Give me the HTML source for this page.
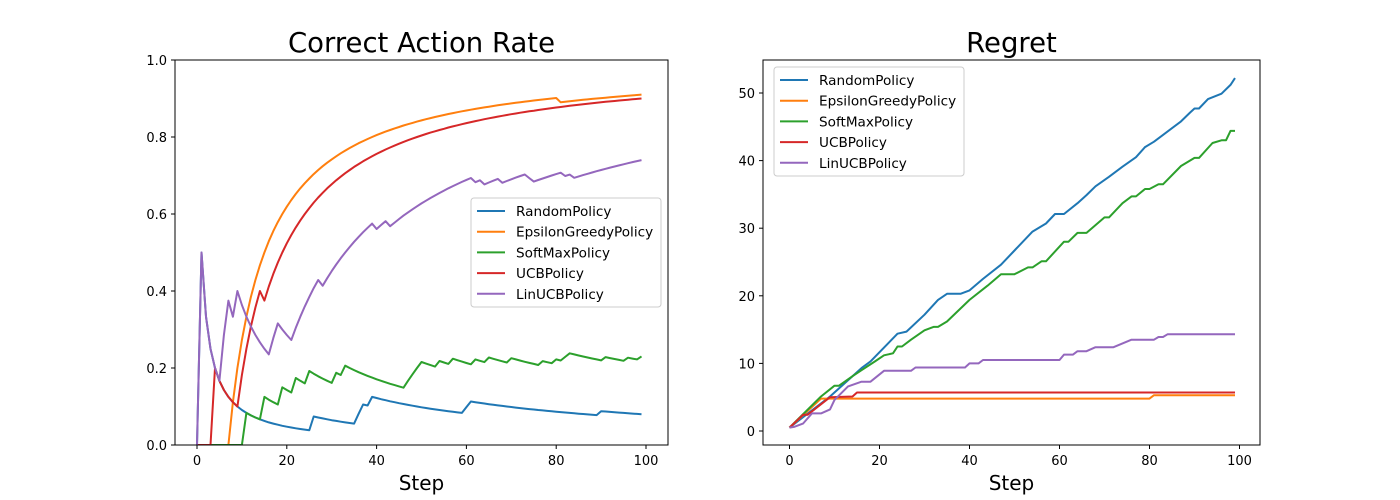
<!DOCTYPE html>
<html><head><meta charset="utf-8"><style>
body{margin:0;background:#fff}
svg{display:block;font-family:"DejaVu Sans","Liberation Sans",sans-serif}
</style></head><body>
<svg id="chart" width="1400" height="500" viewBox="0 0 1400 500"></svg>
<script>
const steps = Array.from({length:100},(_,i)=>i);
const seriesNames = ["RandomPolicy","EpsilonGreedyPolicy","SoftMaxPolicy","UCBPolicy","LinUCBPolicy"];
const seriesColors = ["#1f77b4","#ff7f0e","#2ca02c","#d62728","#9467bd"];
// cumulative correct-action counts per step (rate = count/(step+1))
const randomCorrect = [0,1,1,1,1,1,1,1,1,1, 1,1,1,1,1,1,1,1,1,1, 1,1,1,1,1,1,2,2,2,2, 2,2,2,2,2,2,3,4,4,5, 5,5,5,5,5,5,5,5,5,5, 5,5,5,5,5,5,5,5,5,5, 6,7,7,7,7,7,7,7,7,7, 7,7,7,7,7,7,7,7,7,7, 7,7,7,7,7,7,7,7,7,7, 8,8,8,8,8,8,8,8,8,8];
const epsilonCorrect = [0,0,0,0,0,0,0,0,1,2, 3,4,5,6,7,8,9,10,11,12, 13,14,15,16,17,18,19,20,21,22, 23,24,25,26,27,28,29,30,31,32, 33,34,35,36,37,38,39,40,41,42, 43,44,45,46,47,48,49,50,51,52, 53,54,55,56,57,58,59,60,61,62, 63,64,65,66,67,68,69,70,71,72, 73,73,74,75,76,77,78,79,80,81, 82,83,84,85,86,87,88,89,90,91];
const softmaxCorrect = [0,0,0,0,0,0,0,0,0,0, 0,1,1,1,1,2,2,2,2,3, 3,3,4,4,4,5,5,5,5,5, 5,6,6,7,7,7,7,7,7,7, 7,7,7,7,7,7,7,8,9,10, 11,11,11,11,12,12,12,13,13,13, 13,13,14,14,14,15,15,15,15,15, 16,16,16,16,16,16,16,17,17,17, 18,18,19,20,20,20,20,20,20,20, 20,21,21,21,21,21,22,22,22,23];
const ucbCorrect = [0,0,0,0,1,1,1,1,1,1, 2,3,4,5,6,6,7,8,9,10, 11,12,13,14,15,16,17,18,19,20, 21,22,23,24,25,26,27,28,29,30, 31,32,33,34,35,36,37,38,39,40, 41,42,43,44,45,46,47,48,49,50, 51,52,53,54,55,56,57,58,59,60, 61,62,63,64,65,66,67,68,69,70, 71,72,73,74,75,76,77,78,79,80, 81,82,83,84,85,86,87,88,89,90];
const linucbCorrect = [0,1,1,1,1,1,2,3,3,4, 4,4,4,4,4,4,4,5,6,6, 6,6,7,8,9,10,11,12,12,13, 14,15,16,17,18,19,20,21,22,23, 23,24,25,25,26,27,28,29,30,31, 32,33,34,35,36,37,38,39,40,41, 42,43,43,44,44,45,46,47,47,48, 49,50,51,52,52,52,53,54,55,56, 57,58,58,59,59,60,61,62,63,64, 65,66,67,68,69,70,71,72,73,74];
// regret keypoints
const randomRegretSteps = [0,9,16,18,24,26,30,33,35,38,40,43,47,50,54,57,59,61,64,66,68,71,74,77,79,81,83,87,89,90,91,93,96,98,99];
const randomRegret = [0.5,5.1,9.3,10.3,14.4,14.7,17.2,19.4,20.3,20.3,20.8,22.5,24.6,26.7,29.5,30.7,32.1,32.1,33.7,34.9,36.2,37.6,39.1,40.5,42.0,42.8,43.8,45.8,47.1,47.7,47.7,49.1,49.9,51.2,52.2];
const epsilonRegretSteps = [0,7,80,81,99];
const epsilonRegret = [0.5,4.8,4.8,5.3,5.3];
const softmaxRegretSteps = [0,7,10,11,14,16,19,21,23,24,25,27,30,32,33,35,40,44,47,50,53,54,56,57,61,62,64,66,70,71,74,76,77,79,80,82,83,87,90,91,94,96,97,98,99];
const softmaxRegret = [0.5,5.1,6.7,6.7,8.1,9.0,10.3,11.2,11.5,12.5,12.5,13.5,14.9,15.4,15.4,16.2,19.4,21.5,23.2,23.2,24.2,24.2,25.1,25.1,28.0,28.0,29.3,29.3,31.6,31.6,33.7,34.7,34.7,35.8,35.8,36.5,36.5,39.2,40.4,40.4,42.6,43.0,43.0,44.4,44.4];
const ucbRegretSteps = [0,3,4,9,14,15,99];
const ucbRegret = [0.5,2.4,2.4,5.0,5.1,5.7,5.7];
const linucbRegretSteps = [0,1,3,5,7,9,10,13,16,18,21,27,28,39,40,42,43,60,61,63,64,66,68,72,76,81,82,83,84,99];
const linucbRegret = [0.5,0.6,1.1,2.6,2.6,3.2,4.6,6.6,7.3,7.3,8.9,8.9,9.4,9.4,10.0,10.0,10.5,10.5,11.3,11.3,11.8,11.8,12.4,12.4,13.5,13.5,13.9,13.9,14.3,14.3];
const xTicks = [0,20,40,60,80,100];
const leftYTicks = [0,0.2,0.4,0.6,0.8,1.0];
const leftYLabels = ["0.0","0.2","0.4","0.6","0.8","1.0"];
const rightYTicks = [0,10,20,30,40,50];

const NS="http://www.w3.org/2000/svg";
const svg=document.getElementById('chart');
function mk(tag,attrs,parent){const e=document.createElementNS(NS,tag);for(const k in attrs)e.setAttribute(k,attrs[k]);(parent||svg).appendChild(e);return e;}

function drawAxes(box,xs,ys,yTicks,yLabels,title,id){
  const g=mk('g',{});
  
  
  const t=mk('text',{x:(box.x0+box.x1)/2,y:box.y0-8,'text-anchor':'middle','font-size':27.5,fill:'#000'},g);
  t.textContent=title;
  
  
  xTicks.forEach(v=>{const x=xs(v);
    mk('line',{x1:x,x2:x,y1:box.y1,y2:box.y1+4,stroke:'#000','stroke-width':1},g);
    const l=mk('text',{x:x,y:box.y1+20,'text-anchor':'middle','font-size':13},g);l.textContent=v;
    
    });
  yTicks.forEach((v,i)=>{const y=ys(v);
    mk('line',{x1:box.x0-4,x2:box.x0,y1:y,y2:y,stroke:'#000','stroke-width':1},g);
    const l=mk('text',{x:box.x0-8,y:y+5,'text-anchor':'end','font-size':13},g);l.textContent=yLabels[i];
    
    });
  const xl=mk('text',{x:(box.x0+box.x1)/2,y:box.y1+45,'text-anchor':'middle','font-size':20},g);xl.textContent='Step';
  
  
  return g;
}
function frame(box){const r=mk('rect',{x:box.x0,y:box.y0,width:box.x1-box.x0,height:box.y1-box.y0,fill:'none',stroke:'#000','stroke-width':1});
  
  }
function legend(lx,ly,w){const g=mk('g',{});
  
  
  mk('rect',{x:lx,y:ly,width:w,height:109,rx:3,fill:'#fff','fill-opacity':0.8,stroke:'#ccc'},g);
  seriesNames.forEach((n,i)=>{const y=ly+13+i*20.7;
    const e=mk('g',{},g);
    
    
    mk('line',{x1:lx+6,x2:lx+34,y1:y,y2:y,stroke:seriesColors[i],'stroke-width':2},e);
    const t=mk('text',{x:lx+45,y:y+5,'font-size':13.6},e);t.textContent=n;});
}

// Left chart
const L={x0:175,x1:668,y0:60,y1:445};
const lx=v=>197+v*4.49, ly=v=>445-v*385;
drawAxes(L,lx,ly,leftYTicks,leftYLabels,'Correct Action Rate','rate');
const rateSeries=[randomCorrect,epsilonCorrect,softmaxCorrect,ucbCorrect,linucbCorrect];
const clipL=mk('clipPath',{id:'cl'});mk('rect',{x:L.x0,y:L.y0,width:L.x1-L.x0,height:L.y1-L.y0},clipL);
rateSeries.forEach((arr,i)=>{
  const pts=steps.map((s,j)=>lx(s).toFixed(1)+','+ly(arr[j]/(s+1)).toFixed(1)).join(' ');
  const p=mk('polyline',{points:pts,fill:'none',stroke:seriesColors[i],'stroke-width':2,'stroke-linejoin':'round','clip-path':'url(#cl)'});
  
  
});
frame(L);
legend(471,198,190);

// Right chart
const R={x0:763,x1:1260,y0:60,y1:445};
const rx=v=>789.5+v*4.5, ry=v=>431-v*6.76;
drawAxes(R,rx,ry,rightYTicks,rightYTicks.map(String),'Regret','regret');
const regretSteps=[randomRegretSteps,epsilonRegretSteps,softmaxRegretSteps,ucbRegretSteps,linucbRegretSteps];
const regretVals=[randomRegret,epsilonRegret,softmaxRegret,ucbRegret,linucbRegret];
regretVals.forEach((arr,i)=>{
  const pts=arr.map((v,j)=>rx(regretSteps[i][j]).toFixed(1)+','+ry(v).toFixed(1)).join(' ');
  const p=mk('polyline',{points:pts,fill:'none',stroke:seriesColors[i],'stroke-width':2,'stroke-linejoin':'round'});
  
  
});
frame(R);
legend(774,67,190);
</script>
</body></html>
